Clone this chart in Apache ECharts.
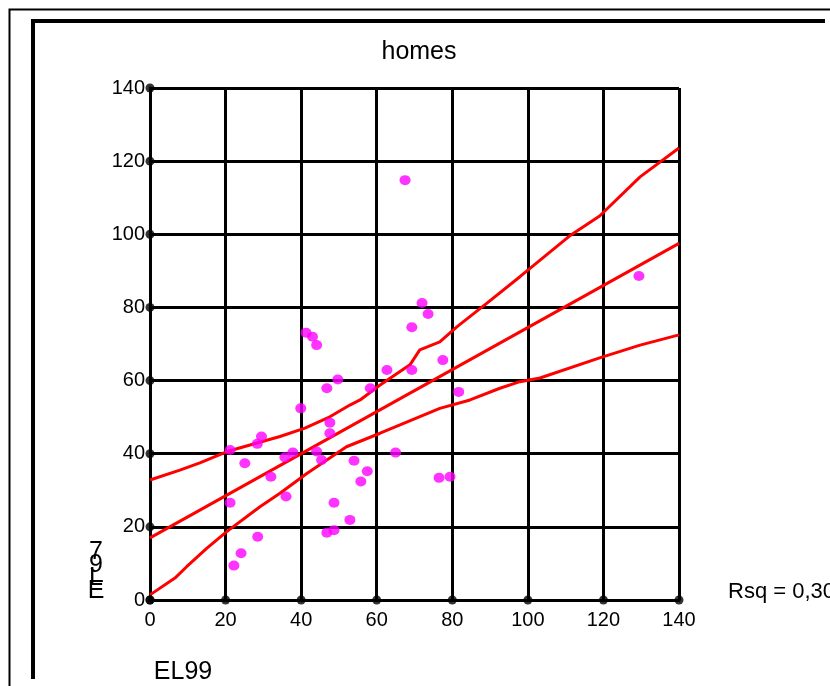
<!DOCTYPE html>
<html>
<head>
<meta charset="utf-8">
<script src="https://cdn.jsdelivr.net/npm/echarts@6/dist/echarts.min.js"></script>
<style>
html,body{margin:0;padding:0;background:#fff;}
#chart{width:830px;height:686px;}
</style>
</head>
<body>
<div id="chart"></div>
<script>
// ---- data ----
var xTicks = [0, 20, 40, 60, 80, 100, 120, 140];
var yTicks = [0, 20, 40, 60, 80, 100, 120, 140];
var points = [
  [67.5,114.8],[129.4,88.6],[72,81.2],[73.6,78.2],[69.3,74.6],[41.3,73.1],[43,72],[44.1,69.7],
  [77.5,65.6],[69.3,62.9],[62.7,62.9],[49.7,60.3],[46.8,57.9],[58.3,57.9],[81.7,56.9],[39.9,52.4],
  [47.6,48.5],[47.6,45.6],[29.5,44.7],[28.4,42.7],[21.2,41],[44.1,40.6],[65,40.3],[37.8,40.3],
  [35.7,39],[45.4,38.3],[54,38.1],[25.1,37.4],[57.5,35.2],[76.5,33.4],[79.4,33.7],[32,33.7],
  [55.8,32.4],[36,28.3],[21.2,26.6],[48.7,26.6],[52.9,21.9],[48.7,19.1],[46.8,18.4],[28.5,17.3],
  [24.1,12.8],[22.2,9.4]
];
var fitLine = [[0,17],[140,97.5]];
var upperBand = [[0,32.8],[7.9,35.5],[13.2,37.5],[20.4,40.6],[34.4,44.7],[41,47],[47.6,50.1],[52.9,53.3],
  [55.6,54.7],[60.9,58.8],[68.8,64.3],[71.4,68.4],[76.7,70.6],[81.2,74.7],[89.1,81.1],[97.9,88.4],
  [111,99.5],[119,105],[129.7,115.7],[140,123.6]];
var lowerBand = [[0,1.4],[6.6,6],[9.7,9.1],[15,14.1],[20.3,18.7],[29.1,25.5],[34.4,29.2],[41.5,34.6],
  [52,41.9],[60.9,45.6],[76.7,52.4],[84.7,54.7],[92.6,57.9],[97.9,59.7],[103.2,60.7],[119,66.2],
  [129.7,69.7],[140,72.5]];
var titleText = 'homes';
var xTitle = 'EL99';
var yTitle = 'EL97';
var rsqText = 'Rsq = 0,30';

var FONT = 'Arial, "Liberation Sans", sans-serif';
var chart = echarts.init(document.getElementById('chart'), null, {renderer:'canvas'});

var tickDots = xTicks.map(function(v){return [v, yTicks[0]];})
  .concat(yTicks.map(function(v){return [xTicks[0], v];}));

var stacked = yTitle.split('').reverse().join('\n');

chart.setOption({
  backgroundColor: '#ffffff',
  animation: false,
  grid: {left: 150, top: 88, width: 529, height: 512, containLabel: false},
  xAxis: {
    type: 'value', min: 0, max: 140, interval: 20,
    axisLine: {show: true, onZero: false, lineStyle: {color: '#000', width: 3}},
    axisTick: {show: false},
    splitLine: {show: true, lineStyle: {color: '#000', width: 3}},
    axisLabel: {color: '#000', fontSize: 20, fontFamily: FONT, margin: 10}
  },
  yAxis: {
    type: 'value', min: 0, max: 140, interval: 20,
    axisLine: {show: true, onZero: false, lineStyle: {color: '#000', width: 3}},
    axisTick: {show: false},
    splitLine: {show: true, lineStyle: {color: '#000', width: 3}},
    axisLabel: {color: '#000', fontSize: 20, fontFamily: FONT, margin: 5}
  },
  series: [
    {type: 'line', data: upperBand, showSymbol: false, symbol: 'none', smooth: false,
     lineStyle: {color: '#ff0000', width: 3}, z: 3},
    {type: 'line', data: lowerBand, showSymbol: false, symbol: 'none', smooth: false,
     lineStyle: {color: '#ff0000', width: 3}, z: 3},
    {type: 'line', data: fitLine, showSymbol: false, symbol: 'none',
     lineStyle: {color: '#ff0000', width: 3}, z: 3},
    {type: 'scatter', data: points, symbol: 'circle', symbolSize: [11, 10],
     itemStyle: {color: '#ff00ff'}, z: 4},
    {type: 'scatter', data: tickDots, symbol: 'circle', symbolSize: 9,
     itemStyle: {color: '#000'}, z: 5, silent: true}
  ],
  graphic: [
    {type: 'polyline', shape: {points: [[9.5, 686], [9.5, 9.5], [830, 9.5]]},
     style: {stroke: '#000', lineWidth: 2, fill: null}},
    {type: 'polyline', shape: {points: [[33, 679], [33, 21], [825, 21]]},
     style: {stroke: '#000', lineWidth: 4, fill: null}},
    {type: 'text', style: {text: titleText, x: 419, y: 52, align: 'center', verticalAlign: 'middle',
     font: '25px ' + FONT, fill: '#000'}},
    {type: 'text', style: {text: xTitle, x: 183, y: 672, align: 'center', verticalAlign: 'middle',
     font: '25px ' + FONT, fill: '#000'}},
    {type: 'text', style: {text: rsqText, x: 728, y: 592, align: 'left', verticalAlign: 'middle',
     font: '22px ' + FONT, fill: '#000'}},
    {type: 'text', style: {text: stacked, x: 96, y: 598, align: 'center', verticalAlign: 'bottom',
     font: '25px ' + FONT, lineHeight: 13, fill: '#000'}}
  ]
});
</script>
</body>
</html>
